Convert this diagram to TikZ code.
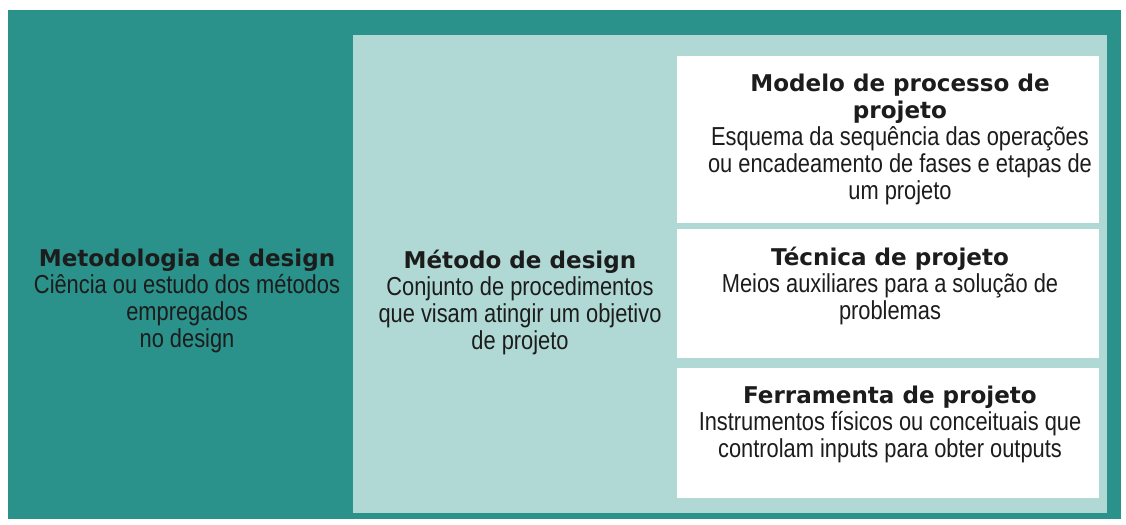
\documentclass[tikz,border=0pt]{standalone}
\usepackage{fontspec}
\usetikzlibrary{positioning}
\newfontfamily\titlefont{DejaVu Sans}
\newfontfamily\bodyfont[FakeStretch=0.84]{Liberation Sans}
\definecolor{darkteal}{RGB}{42,145,139}
\definecolor{lightteal}{RGB}{176,217,213}
\definecolor{textgray}{RGB}{28,28,28}
\newcommand{\boxtitle}[1]{{\titlefont\bfseries\fontsize{16.4}{18.5}\selectfont #1}}

\begin{document}
\begin{tikzpicture}[
  panel/.style={fill=#1, inner sep=0pt, outer sep=0pt},
  boxtext/.style={align=center, text=textgray, inner sep=0pt,
    font=\bodyfont\fontsize{18.5}{19.2}\selectfont},
]
  \useasboundingbox[fill=white] (0,0) rectangle (28.15,13.1);
  % background panels
  \node[panel=darkteal, minimum width=27.825cm, minimum height=12.725cm] (outer) at (14.1125, 6.4875) {};
  \node[panel=lightteal, minimum width=18.85cm, minimum height=11.95cm] (inner) at (18.25, 6.25) {};
  \node[panel=white, minimum width=10.55cm, minimum height=4.175cm] (modelo) at (22.2, 9.6) {};
  \node[panel=white, minimum width=10.55cm, minimum height=3.225cm] (tecnica) at (22.2, 5.7625) {};
  \node[panel=white, minimum width=10.55cm, minimum height=3.25cm] (ferramenta) at (22.2, 2.275) {};

  % texts
  \node[boxtext] (metodologiatxt) at (4.675, 5.575) {
    \boxtitle{Metodologia de design}\\
    Ciência ou estudo dos métodos\\
    empregados\\
    no design
  };
  \node[boxtext] (metodotxt) at (13.0, 5.55) {
    \boxtitle{Método de design}\\
    Conjunto de procedimentos\\
    que visam atingir um objetivo\\
    de projeto
  };
  \node[boxtext] (modelotxt) at (22.5, 9.625) {
    \boxtitle{Modelo de processo de}\\
    \boxtitle{projeto}\\
    Esquema da sequência das operações\\
    ou encadeamento de fases e etapas de\\
    um projeto
  };
  \node[boxtext] (tecnicatxt) at (22.25, 5.95) {
    \boxtitle{Técnica de projeto}\\
    Meios auxiliares para a solução de\\
    problemas
  };
  \node[boxtext] (ferramentatxt) at (22.25, 2.5) {
    \boxtitle{Ferramenta de projeto}\\
    Instrumentos físicos ou conceituais que\\
    controlam inputs para obter outputs
  };
\end{tikzpicture}
\end{document}
